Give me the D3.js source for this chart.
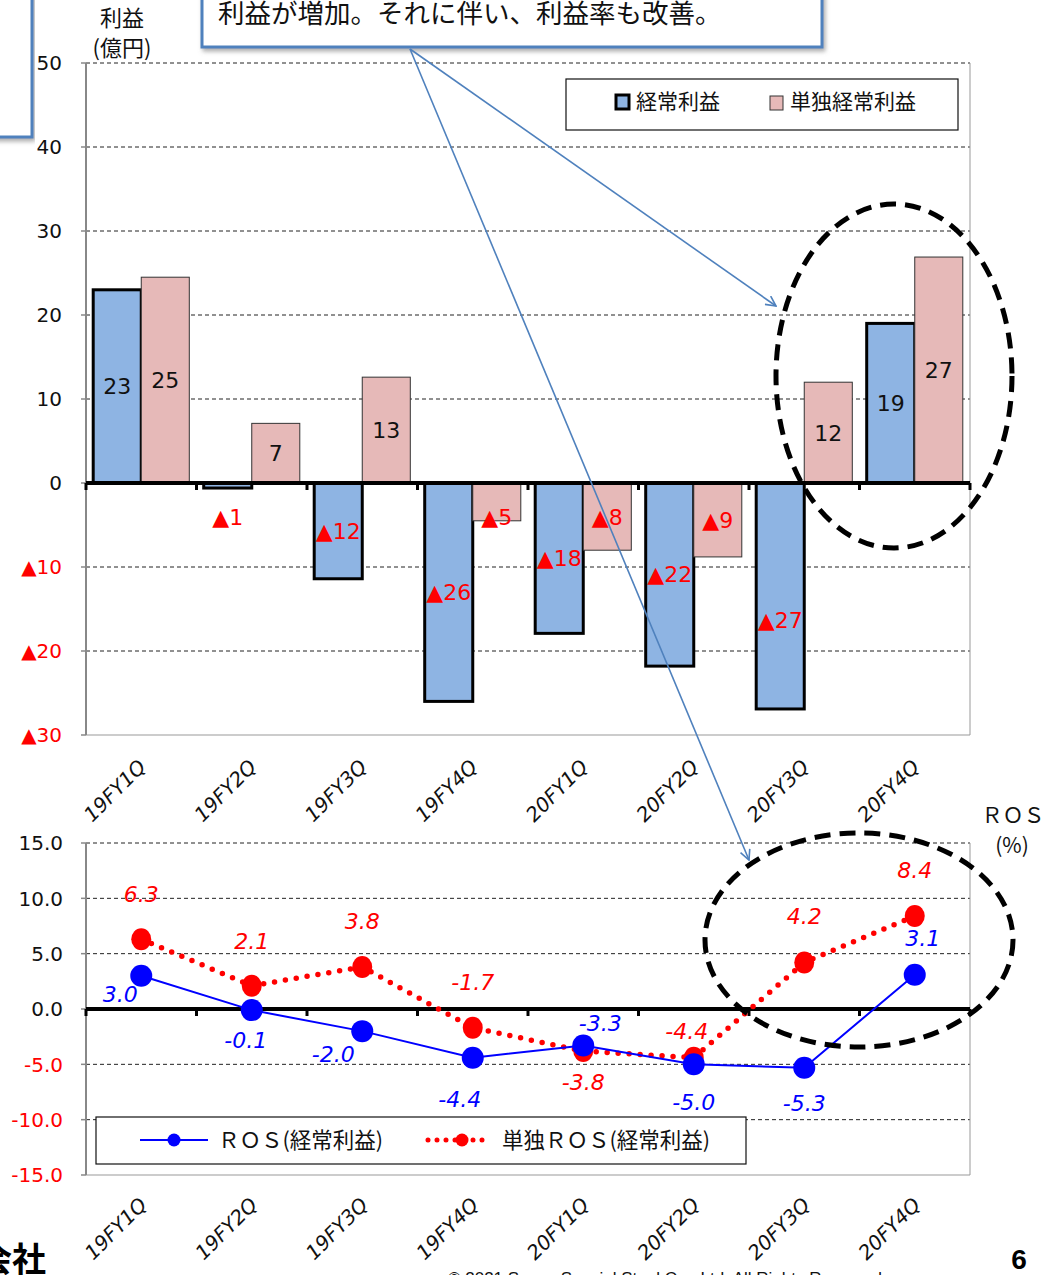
<!DOCTYPE html>
<html>
<head>
<meta charset="utf-8">
<script src="https://cdn.jsdelivr.net/npm/d3@7"></script>
<style>
body { margin: 0; background: #fff; }
svg { display: block; }
</style>
</head>
<body>
<svg width="1048" height="1275"></svg>
<script>
// quarters
var categories = ["19FY1Q", "19FY2Q", "19FY3Q", "19FY4Q", "20FY1Q", "20FY2Q", "20FY3Q", "20FY4Q"];

// profit (億円)
var keijo = [23.0, -0.6, -11.4, -26.0, -17.9, -21.8, -26.9, 19.0];
var keijoLabels = ["23", "▲1", "▲12", "▲26", "▲18", "▲22", "▲27", "19"];
var tandoku = [24.5, 7.1, 12.6, -4.5, -8.0, -8.8, 12.0, 26.9];
var tandokuLabels = ["25", "7", "13", "▲5", "▲8", "▲9", "12", "27"];
var profitTicks = [-30, -20, -10, 0, 10, 20, 30, 40, 50];

// ROS (%)
var ros = [3.0, -0.1, -2.0, -4.4, -3.3, -5.0, -5.3, 3.1];
var rosTandoku = [6.3, 2.1, 3.8, -1.7, -3.8, -4.4, 4.2, 8.4];
var rosTicks = [-15, -10, -5, 0, 5, 10, 15];

var svg = d3.select("svg");
var latin = "'DejaVu Sans', Verdana, sans-serif";
var cjk = "'Noto Sans CJK JP', sans-serif";
var blueFill = "#8eb4e3", pinkFill = "#e6b9b8", arrowBlue = "#4f81bd";
var fmt1 = d3.formatLocale({decimal: ".", thousands: ",", grouping: [3], currency: ["", ""], minus: "-"}).format(".1f");

var left = 86, right = 970;

var x = d3.scaleBand().domain(categories).range([left, right]);
var x1 = d3.scaleBand().domain(["keijo", "tandoku"]).range([0, x.bandwidth()]).paddingOuter(0.15);
var yP = d3.scaleLinear().domain([-30, 50]).range([735, 63]);
var yR = d3.scaleLinear().domain([-15, 15]).range([1175, 843]);

var defs = svg.append("defs");
defs.append("filter").attr("id", "shadow").attr("x", "-5%").attr("y", "-20%").attr("width", "110%").attr("height", "150%")
  .append("feDropShadow").attr("dx", 2).attr("dy", 3).attr("stdDeviation", 2).attr("flood-color", "#777").attr("flood-opacity", 0.6);
defs.append("marker").attr("id", "arrow").attr("viewBox", "0 0 12 12").attr("refX", 11).attr("refY", 6)
  .attr("markerWidth", 12).attr("markerHeight", 12).attr("markerUnits", "userSpaceOnUse").attr("orient", "auto")
  .append("path").attr("d", "M1,1 L11,6 L1,11").attr("fill", "none").attr("stroke", arrowBlue).attr("stroke-width", 1.6);

// ---------- top chart: profit bars ----------
var gTop = svg.append("g");

// grid
gTop.selectAll(".grid").data(profitTicks.filter(function(d) { return d !== 0 && d !== -30; }))
  .enter().append("line")
  .attr("x1", left).attr("x2", right)
  .attr("y1", function(d) { return yP(d); }).attr("y2", function(d) { return yP(d); })
  .attr("stroke", "#222").attr("stroke-width", 1).attr("stroke-dasharray", "4,3");
gTop.append("line").attr("x1", left).attr("x2", right).attr("y1", yP(-30)).attr("y2", yP(-30)).attr("stroke", "#999");
gTop.append("line").attr("x1", right).attr("x2", right).attr("y1", yP(50)).attr("y2", yP(-30)).attr("stroke", "#999");
gTop.append("line").attr("x1", left).attr("x2", left).attr("y1", yP(50)).attr("y2", yP(-30)).attr("stroke", "#888").attr("stroke-width", 2);
gTop.selectAll(".ltick").data(profitTicks).enter().append("line")
  .attr("x1", left - 5).attr("x2", left).attr("y1", function(d) { return yP(d); }).attr("y2", function(d) { return yP(d); })
  .attr("stroke", "#888").attr("stroke-width", 1.5);

// y labels
gTop.selectAll(".ylab").data(profitTicks).enter().append("text")
  .attr("x", 62).attr("y", function(d) { return yP(d); }).attr("dy", "0.36em")
  .attr("text-anchor", "end").style("font", "20px " + latin)
  .attr("fill", function(d) { return d < 0 ? "#ff0000" : "#111"; })
  .text(function(d) { return d < 0 ? "▲" + (-d) : d; });

gTop.append("text").attr("x", 122).attr("y", 26).attr("text-anchor", "middle").style("font", "22px " + cjk).attr("fill", "#111").text("利益");
gTop.append("text").attr("x", 122).attr("y", 56).attr("text-anchor", "middle").style("font", "22px " + cjk).attr("fill", "#111").text("(億円)");

var group = gTop.selectAll(".grp").data(categories).enter().append("g")
  .attr("transform", function(d) { return "translate(" + x(d) + ",0)"; });

group.append("rect")
  .attr("x", x1("keijo")).attr("width", x1.bandwidth())
  .attr("y", function(d, i) { return yP(Math.max(0, keijo[i])); })
  .attr("height", function(d, i) { return Math.abs(yP(keijo[i]) - yP(0)); })
  .attr("fill", blueFill).attr("stroke", "#000").attr("stroke-width", 3);
group.append("rect")
  .attr("x", x1("tandoku")).attr("width", x1.bandwidth())
  .attr("y", function(d, i) { return yP(Math.max(0, tandoku[i])); })
  .attr("height", function(d, i) { return Math.abs(yP(tandoku[i]) - yP(0)); })
  .attr("fill", pinkFill).attr("stroke", "#333").attr("stroke-width", 1);

// zero axis
gTop.append("line").attr("x1", left).attr("x2", right).attr("y1", yP(0)).attr("y2", yP(0)).attr("stroke", "#000").attr("stroke-width", 4);
gTop.selectAll(".xtick").data(categories.concat(["end"])).enter().append("line")
  .attr("x1", function(d, i) { return left + i * x.step(); }).attr("x2", function(d, i) { return left + i * x.step(); })
  .attr("y1", yP(0)).attr("y2", yP(0) + 7).attr("stroke", "#000").attr("stroke-width", 3);

// bar labels
var nudge = {6: 24};
function labelY(v, i, minGap) {
  var mid = (yP(v) + yP(0)) / 2;
  if (v < 0) mid = Math.max(mid, yP(0) + minGap);
  return mid + (nudge[i] || 0);
}
group.append("text")
  .attr("x", x1("keijo") + x1.bandwidth() / 2)
  .attr("y", function(d, i) { return keijo[i] < 0 ? labelY(keijo[i], i, 34) : labelY(keijo[i], i, 0); })
  .attr("dy", "0.36em").attr("text-anchor", "middle").style("font", "22px " + latin)
  .attr("fill", function(d, i) { return keijo[i] < 0 ? "#ff0000" : "#111"; })
  .text(function(d, i) { return keijoLabels[i]; });
group.append("text")
  .attr("x", x1("tandoku") + x1.bandwidth() / 2)
  .attr("y", function(d, i) { return tandoku[i] < 0 ? labelY(tandoku[i], -1, 34) : labelY(tandoku[i], -1, 0); })
  .attr("dy", "0.36em").attr("text-anchor", "middle").style("font", "22px " + latin)
  .attr("fill", function(d, i) { return tandoku[i] < 0 ? "#ff0000" : "#111"; })
  .text(function(d, i) { return tandokuLabels[i]; });

// x labels
gTop.selectAll(".xlab").data(categories).enter().append("text")
  .attr("transform", function(d) { return "translate(" + (x(d) + x.bandwidth() / 2 + 6) + ",768) rotate(-45)"; })
  .attr("text-anchor", "end").style("font", "italic 20px " + latin).attr("fill", "#111")
  .text(function(d) { return d; });

// legend
var leg = gTop.append("g");
leg.append("rect").attr("x", 566).attr("y", 79).attr("width", 392).attr("height", 51).attr("fill", "#fff").attr("stroke", "#111").attr("stroke-width", 1.2);
leg.append("rect").attr("x", 616).attr("y", 95).attr("width", 13).attr("height", 14).attr("fill", blueFill).attr("stroke", "#000").attr("stroke-width", 3);
leg.append("text").attr("x", 636).attr("y", 101).attr("dy", "0.36em").style("font", "21px " + cjk).attr("fill", "#111").text("経常利益");
leg.append("rect").attr("x", 770).attr("y", 96).attr("width", 13).attr("height", 14).attr("fill", pinkFill).attr("stroke", "#333").attr("stroke-width", 1);
leg.append("text").attr("x", 790).attr("y", 101).attr("dy", "0.36em").style("font", "21px " + cjk).attr("fill", "#111").text("単独経常利益");

// ---------- bottom chart: ROS lines ----------
var gBot = svg.append("g");

gBot.selectAll(".grid").data(rosTicks.filter(function(d) { return d !== 0 && d !== -15; }))
  .enter().append("line")
  .attr("x1", left).attr("x2", right)
  .attr("y1", function(d) { return yR(d); }).attr("y2", function(d) { return yR(d); })
  .attr("stroke", "#222").attr("stroke-width", 1).attr("stroke-dasharray", "4,3");
gBot.append("line").attr("x1", left).attr("x2", right).attr("y1", yR(-15)).attr("y2", yR(-15)).attr("stroke", "#999");
gBot.append("line").attr("x1", right).attr("x2", right).attr("y1", yR(15)).attr("y2", yR(-15)).attr("stroke", "#999");
gBot.append("line").attr("x1", left).attr("x2", left).attr("y1", yR(15)).attr("y2", yR(-15)).attr("stroke", "#888").attr("stroke-width", 2);
gBot.selectAll(".ltick").data(rosTicks).enter().append("line")
  .attr("x1", left - 5).attr("x2", left).attr("y1", function(d) { return yR(d); }).attr("y2", function(d) { return yR(d); })
  .attr("stroke", "#888").attr("stroke-width", 1.5);

gBot.selectAll(".ylab").data(rosTicks).enter().append("text")
  .attr("x", 63).attr("y", function(d) { return yR(d); }).attr("dy", "0.36em")
  .attr("text-anchor", "end").style("font", "20px " + latin)
  .attr("fill", function(d) { return d < 0 ? "#ff0000" : "#111"; })
  .text(function(d) { return fmt1(d); });

gBot.append("text").attr("x", 1013).attr("y", 823).attr("text-anchor", "middle").style("font", "21px " + cjk).attr("fill", "#111").text("ＲＯＳ");
gBot.append("text").attr("x", 1012).attr("y", 853).attr("text-anchor", "middle").style("font", "21px " + cjk).attr("fill", "#111").text("(%)");

gBot.append("line").attr("x1", left).attr("x2", right).attr("y1", yR(0)).attr("y2", yR(0)).attr("stroke", "#000").attr("stroke-width", 4);
gBot.selectAll(".xtick").data(categories.concat(["end"])).enter().append("line")
  .attr("x1", function(d, i) { return left + i * x.step(); }).attr("x2", function(d, i) { return left + i * x.step(); })
  .attr("y1", yR(0)).attr("y2", yR(0) + 7).attr("stroke", "#000").attr("stroke-width", 3);

var cx = function(d, i) { return x(categories[i]) + x.bandwidth() / 2; };
var line = d3.line().x(cx).y(function(d) { return yR(d); });

gBot.append("path").attr("d", line(rosTandoku)).attr("fill", "none").attr("stroke", "#ff0000")
  .attr("stroke-width", 5.5).attr("stroke-linecap", "round").attr("stroke-dasharray", "0,11");
gBot.append("path").attr("d", line(ros)).attr("fill", "none").attr("stroke", "#0000ff").attr("stroke-width", 2);

gBot.selectAll(".rdot").data(rosTandoku).enter().append("ellipse")
  .attr("cx", cx).attr("cy", function(d) { return yR(d); }).attr("rx", 10).attr("ry", 11).attr("fill", "#ff0000");
gBot.selectAll(".bdot").data(ros).enter().append("ellipse")
  .attr("cx", cx).attr("cy", function(d) { return yR(d); }).attr("rx", 11).attr("ry", 11).attr("fill", "#0000ff");

// label offsets (dx, dy) from each point
var rosOff = [[-21, 18], [-6, 30], [-29, 23], [-13, 41], [17, -22], [0, 38], [0, 35], [8, -37]];
var tanOff = [[0, -45], [0, -45], [0, -46], [0, -46], [0, 31], [-7, -27], [0, -46], [0, -46]];

gBot.selectAll(".rlab").data(rosTandoku).enter().append("text")
  .attr("x", function(d, i) { return cx(d, i) + tanOff[i][0]; })
  .attr("y", function(d, i) { return yR(d) + tanOff[i][1]; })
  .attr("dy", "0.36em").attr("text-anchor", "middle").style("font", "italic 22px " + latin).attr("fill", "#ff0000")
  .text(function(d) { return fmt1(d); });
gBot.selectAll(".blab").data(ros).enter().append("text")
  .attr("x", function(d, i) { return cx(d, i) + rosOff[i][0]; })
  .attr("y", function(d, i) { return yR(d) + rosOff[i][1]; })
  .attr("dy", "0.36em").attr("text-anchor", "middle").style("font", "italic 22px " + latin).attr("fill", "#0000ff")
  .text(function(d) { return fmt1(d); });

gBot.selectAll(".xlab").data(categories).enter().append("text")
  .attr("transform", function(d) { return "translate(" + (x(d) + x.bandwidth() / 2 + 7) + ",1206) rotate(-45)"; })
  .attr("text-anchor", "end").style("font", "italic 20px " + latin).attr("fill", "#111")
  .text(function(d) { return d; });

// legend
var leg2 = gBot.append("g");
leg2.append("rect").attr("x", 96).attr("y", 1117).attr("width", 650).attr("height", 47).attr("fill", "#fff").attr("stroke", "#111").attr("stroke-width", 1.2);
leg2.append("line").attr("x1", 140).attr("x2", 208).attr("y1", 1140).attr("y2", 1140).attr("stroke", "#0000ff").attr("stroke-width", 2);
leg2.append("circle").attr("cx", 174).attr("cy", 1140).attr("r", 6.5).attr("fill", "#0000ff");
leg2.append("text").attr("x", 218).attr("y", 1140).attr("dy", "0.36em").style("font", "21.5px " + cjk).attr("fill", "#111").text("ＲＯＳ(経常利益)");
leg2.append("line").attr("x1", 428).attr("x2", 490).attr("y1", 1140).attr("y2", 1140).attr("stroke", "#ff0000")
  .attr("stroke-width", 5).attr("stroke-linecap", "round").attr("stroke-dasharray", "0,9");
leg2.append("circle").attr("cx", 462).attr("cy", 1140).attr("r", 6.5).attr("fill", "#ff0000");
leg2.append("text").attr("x", 502).attr("y", 1140).attr("dy", "0.36em").style("font", "21.5px " + cjk).attr("fill", "#111").text("単独ＲＯＳ(経常利益)");

// ---------- annotations ----------
var ann = svg.append("g");
ann.append("ellipse").attr("cx", 894).attr("cy", 376).attr("rx", 118).attr("ry", 172)
  .attr("fill", "none").attr("stroke", "#000").attr("stroke-width", 5).attr("stroke-dasharray", "16,9");
ann.append("ellipse").attr("cx", 859).attr("cy", 940).attr("rx", 154).attr("ry", 107)
  .attr("fill", "none").attr("stroke", "#000").attr("stroke-width", 5).attr("stroke-dasharray", "16,9");

ann.append("rect").attr("x", -10).attr("y", -20).attr("width", 42).attr("height", 157)
  .attr("fill", "#fff").attr("stroke", arrowBlue).attr("stroke-width", 3).attr("filter", "url(#shadow)");
ann.append("rect").attr("x", 202).attr("y", -20).attr("width", 620).attr("height", 67)
  .attr("fill", "#fff").attr("stroke", arrowBlue).attr("stroke-width", 3).attr("filter", "url(#shadow)");
ann.append("text").attr("x", 218).attr("y", 23).style("font", "26.5px " + cjk).attr("fill", "#111").text("利益が増加。それに伴い、利益率も改善。");

ann.append("line").attr("x1", 410).attr("y1", 49).attr("x2", 776).attr("y2", 306)
  .attr("stroke", arrowBlue).attr("stroke-width", 1.6).attr("marker-end", "url(#arrow)");
ann.append("line").attr("x1", 410).attr("y1", 49).attr("x2", 749).attr("y2", 860)
  .attr("stroke", arrowBlue).attr("stroke-width", 1.6).attr("marker-end", "url(#arrow)");

// footer
svg.append("text").attr("x", 46).attr("y", 1272).attr("text-anchor", "end").style("font", "bold 34px " + cjk).attr("fill", "#000").text("株式会社");
svg.append("text").attr("x", 1019).attr("y", 1269).attr("text-anchor", "middle").style("font", "bold 28px 'Liberation Sans', Arial, sans-serif").attr("fill", "#000").text("6");
svg.append("text").attr("x", 448).attr("y", 1284).style("font", "17px 'Liberation Sans', Arial, sans-serif").attr("fill", "#111").text("© 2021 Sanyo Special Steel Co., Ltd. All Rights Reserved.");
</script>
</body>
</html>
